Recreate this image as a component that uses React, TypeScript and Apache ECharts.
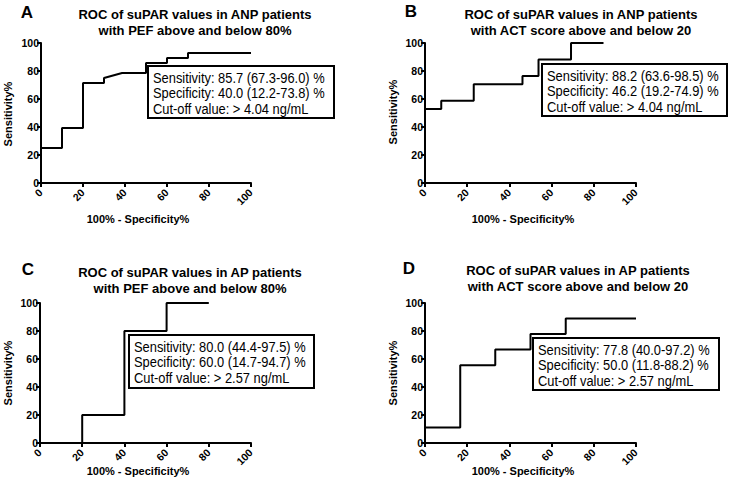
import React, { useEffect, useRef } from "react";
import * as echarts from "echarts";

// Panel A: ANP patients, PEF above/below 80%
const fprA = [0, 10, 10, 20, 20, 30, 30, 38.6, 50, 50, 60, 60, 70, 70, 100];
const sensA = [25, 25, 39.3, 39.3, 71.4, 71.4, 75, 78.6, 78.6, 85.7, 85.7, 89.3, 89.3, 92.9, 92.9];
// Panel B: ANP patients, ACT score above/below 20
const fprB = [0, 7.7, 7.7, 23.1, 23.1, 46.2, 46.2, 53.8, 53.8, 69.2, 69.2, 84.6];
const sensB = [52.9, 52.9, 58.8, 58.8, 70.6, 70.6, 76.5, 76.5, 88.2, 88.2, 100, 100];
// Panel C: AP patients, PEF above/below 80%
const fprC = [20, 20, 40, 40, 60, 60, 80];
const sensC = [0, 20, 20, 80, 80, 100, 100];
// Panel D: AP patients, ACT score above/below 20
const fprD = [0, 16.7, 16.7, 33.3, 33.3, 50, 50, 66.7, 66.7, 100];
const sensD = [11.1, 11.1, 55.6, 55.6, 66.7, 66.7, 77.8, 77.8, 88.9, 88.9];

const panelLetters = ["A", "B", "C", "D"];
const titleLine1 = [
  "ROC of suPAR values in ANP patients",
  "ROC of suPAR values in ANP patients",
  "ROC of suPAR values in AP patients",
  "ROC of suPAR values in AP patients",
];
const titleLine2 = [
  "with PEF above and below 80%",
  "with ACT score above and below 20",
  "with PEF above and below 80%",
  "with ACT score above and below 20",
];
const boxTexts = [
  ["Sensitivity: 85.7 (67.3-96.0) %", "Specificity: 40.0 (12.2-73.8) %", "Cut-off value: > 4.04 ng/mL"],
  ["Sensitivity: 88.2 (63.6-98.5) %", "Specificity: 46.2 (19.2-74.9) %", "Cut-off value: > 4.04 ng/mL"],
  ["Sensitivity: 80.0 (44.4-97.5) %", "Specificity: 60.0 (14.7-94.7) %", "Cut-off value: > 2.57 ng/mL"],
  ["Sensitivity: 77.8 (40.0-97.2) %", "Specificity: 50.0 (11.8-88.2) %", "Cut-off value: > 2.57 ng/mL"],
];
const xAxisName = "100% - Specificity%";
const yAxisName = "Sensitivity%";

const FONT = "'Liberation Sans', Arial, Helvetica, sans-serif";

const layout = [
  { grid: { left: 41, top: 43, width: 210, height: 140 }, letter: [27, 12], title: [195, 14, 30], box: [148, 66, 186, 52], xname: [138, 219], yname: [8, 114] },
  { grid: { left: 425, top: 43, width: 211, height: 140 }, letter: [411, 11], title: [581, 14, 30], box: [542, 64, 185, 52], xname: [523, 219], yname: [393, 112] },
  { grid: { left: 40, top: 303, width: 211, height: 140 }, letter: [28, 269], title: [190, 272, 288], box: [129, 335, 185, 53], xname: [138, 471], yname: [8, 373] },
  { grid: { left: 425, top: 303, width: 211, height: 140 }, letter: [409, 268], title: [578, 270, 286], box: [533, 338, 186, 52], xname: [523, 471], yname: [393, 373] },
];

export default function App() {
  const ref = useRef<HTMLDivElement>(null);
  useEffect(() => {
    if (!ref.current) return;
    const chart = echarts.init(ref.current, undefined, { renderer: "svg" });
    const datasets = [
      fprA.map((x, i) => [x, sensA[i]]),
      fprB.map((x, i) => [x, sensB[i]]),
      fprC.map((x, i) => [x, sensC[i]]),
      fprD.map((x, i) => [x, sensD[i]]),
    ];
    const axisCommon = {
      type: "value" as const,
      min: 0,
      max: 100,
      interval: 20,
      splitLine: { show: false },
      axisLine: { show: true, lineStyle: { color: "#000", width: 2 } },
      axisTick: { show: true, length: 4, lineStyle: { color: "#000", width: 2 } },
    };
    const graphics: any[] = [];
    layout.forEach((L, i) => {
      graphics.push({
        type: "text", x: L.letter[0], y: L.letter[1], z: 10,
        style: { text: panelLetters[i], font: `bold 17px ${FONT}`, fill: "#000", textAlign: "center", textVerticalAlign: "middle" },
      });
      graphics.push({
        type: "text", x: L.title[0], y: L.title[1], z: 10,
        style: { text: titleLine1[i], font: `bold 13px ${FONT}`, fill: "#000", textAlign: "center", textVerticalAlign: "middle" },
      });
      graphics.push({
        type: "text", x: L.title[0], y: L.title[2], z: 10,
        style: { text: titleLine2[i], font: `bold 13px ${FONT}`, fill: "#000", textAlign: "center", textVerticalAlign: "middle" },
      });
      graphics.push({
        type: "text", x: L.xname[0], y: L.xname[1], z: 10,
        style: { text: xAxisName, font: `bold 11px ${FONT}`, fill: "#000", textAlign: "center", textVerticalAlign: "middle" },
      });
      graphics.push({
        type: "text", x: L.yname[0], y: L.yname[1], rotation: Math.PI / 2, z: 10,
        style: { text: yAxisName, font: `bold 11px ${FONT}`, fill: "#000", textAlign: "center", textVerticalAlign: "middle" },
      });
      const [bx, by, bw, bh] = L.box;
      graphics.push({
        type: "rect", z: 20,
        shape: { x: bx, y: by, width: bw, height: bh },
        style: { fill: "#fff", stroke: "#000", lineWidth: 2 },
      });
      boxTexts[i].forEach((t, k) => {
        graphics.push({
          type: "text", x: bx + 5, y: by + 12 + k * 15.5, z: 21, scaleX: 0.92,
          style: { text: t, font: `14px ${FONT}`, fill: "#000", textAlign: "left", textVerticalAlign: "middle" },
        });
      });
    });
    chart.setOption({
      animation: false,
      backgroundColor: "#fff",
      grid: layout.map((L) => ({ ...L.grid, containLabel: false })),
      xAxis: layout.map((_, i) => ({
        ...axisCommon,
        gridIndex: i,
        axisLabel: { rotate: 45, margin: 8, color: "#000", fontWeight: "bold", fontSize: 10.5, fontFamily: FONT },
      })),
      yAxis: layout.map((_, i) => ({
        ...axisCommon,
        gridIndex: i,
        axisLabel: { margin: 2, color: "#000", fontWeight: "bold", fontSize: 10.5, fontFamily: FONT },
      })),
      series: datasets.map((d, i) => ({
        type: "line",
        xAxisIndex: i,
        yAxisIndex: i,
        data: d,
        showSymbol: false,
        symbol: "none",
        lineStyle: { color: "#000", width: 2 },
        z: 3,
      })),
      graphic: graphics,
    });
    return () => chart.dispose();
  }, []);
  return (
    <div
      ref={ref}
      style={{ position: "fixed", left: 0, top: 0, width: 732, height: 488, background: "#fff" }}
    />
  );
}
